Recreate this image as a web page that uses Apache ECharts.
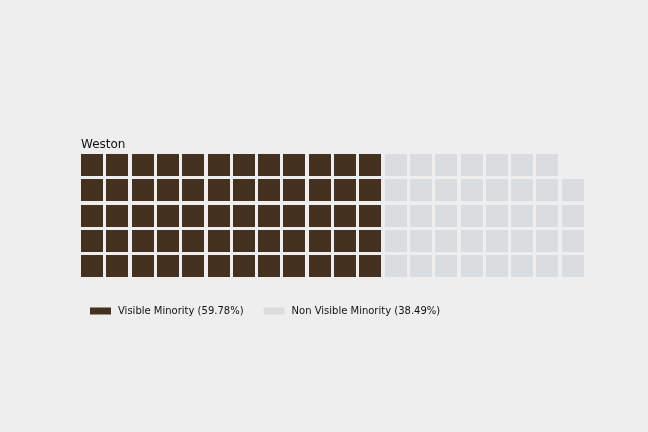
<!DOCTYPE html>
<html>
<head>
<meta charset="utf-8">
<script src="https://cdn.jsdelivr.net/npm/echarts@6/dist/echarts.min.js"></script>
<style>html,body{margin:0;padding:0;background:#eeeeee;}#c{width:648px;height:432px;}</style>
</head>
<body>
<div id="c"></div>
<script>
// Data
const chartTitle = 'Weston';
const categories = ['Visible Minority', 'Non Visible Minority'];
const percentages = [59.78, 38.49];
const cellCounts = [60, 39];   // cells drawn in the waffle (5 rows x 20 columns)
const colors = ['#45311f', '#dadde0'];
const nRows = 5;
const nCols = 20;
const colLabels = Array.from({length: nCols}, (_, i) => String(i));
const rowLabels = Array.from({length: nRows}, (_, i) => String(i));

// Build waffle cell positions (column-major, filled from bottom to top)
let idx = 0;
const series = categories.map((name, k) => {
  const cells = [];
  for (let j = 0; j < cellCounts[k]; j++, idx++) {
    cells.push([Math.floor(idx / nRows), idx % nRows]);
  }
  return {
    name: name + ' (' + percentages[k].toFixed(2) + '%)',
    type: 'custom',
    coordinateSystem: 'cartesian2d',
    itemStyle: { color: colors[k] },
    encode: { x: 0, y: 1 },
    data: cells,
    renderItem: function (params, api) {
      const c = api.coord([api.value(0), api.value(1)]);
      const s = api.size([1, 1]);
      const gap = 3.3;
      const x0 = Math.round(c[0] - s[0] / 2);
      const y0 = Math.round(c[1] - s[1] / 2);
      return {
        type: 'rect',
        shape: { x: x0, y: y0, width: Math.round(s[0] - gap), height: Math.round(s[1] - gap) },
        style: { fill: api.visual('color') }
      };
    }
  };
});

const chart = echarts.init(document.getElementById('c'), null, { renderer: 'canvas' });
chart.setOption({
  backgroundColor: '#eeeeee',
  animation: false,
  title: {
    text: chartTitle,
    left: 81, top: 139, padding: 0,
    textStyle: { fontFamily: 'DejaVu Sans', fontSize: 12, fontWeight: 'normal', color: '#111111' }
  },
  legend: {
    left: 90, top: 306, padding: 0,
    itemWidth: 21, itemHeight: 7, itemGap: 20,
    icon: 'rect',
    textStyle: { fontFamily: 'DejaVu Sans', fontSize: 10, color: '#111111', padding: [0, 0, 0, 2] },
    data: series.map(s => s.name)
  },
  grid: { left: 81, top: 154, width: 506, height: 126.5, containLabel: false },
  xAxis: { type: 'category', data: colLabels, boundaryGap: true, show: false },
  yAxis: { type: 'category', data: rowLabels, boundaryGap: true, show: false },
  series: series
});
</script>
</body>
</html>
